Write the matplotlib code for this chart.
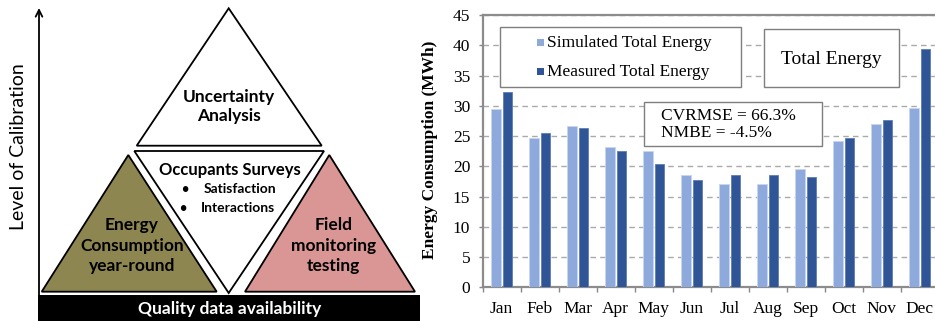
import matplotlib
matplotlib.use("Agg")
import matplotlib.pyplot as plt
import numpy as np
from matplotlib.patches import Polygon, Rectangle
from matplotlib.transforms import Affine2D

# ---------------- data ----------------
months = ["Jan", "Feb", "Mar", "Apr", "May", "Jun", "Jul", "Aug", "Sep", "Oct", "Nov", "Dec"]
simulated = [29.5, 24.6, 26.7, 23.2, 22.6, 18.5, 17.0, 17.0, 19.6, 24.2, 27.0, 29.7]
measured = [32.3, 25.5, 26.3, 22.6, 20.4, 17.7, 18.5, 18.5, 18.3, 24.6, 27.6, 39.3]
yticks = [0, 5, 10, 15, 20, 25, 30, 35, 40, 45]
series_labels = ["Simulated Total Energy", "Measured Total Energy"]
stats_text = "CVRMSE = 66.3%\nNMBE = -4.5%"
chart_title = "Total Energy"

W, H = 935, 321
fig = plt.figure(figsize=(W / 100, H / 100), dpi=100)

SANS = ["Lato", "DejaVu Sans"]
SERIF = ["Liberation Serif", "DejaVu Serif"]

# ---------------- left diagram (pixel coordinates) ----------------
ax0 = fig.add_axes([0, 0, 1, 1])
ax0.set_xlim(0, W)
ax0.set_ylim(H, 0)
ax0.axis("off")

olive = "#8E8650"
pink = "#D99694"

ax0.add_patch(Polygon([(228.7, 8.3), (136.7, 145.7), (321.7, 145.7)], closed=True,
                      facecolor="white", edgecolor="black", lw=1.3))
ax0.add_patch(Polygon([(134.3, 151), (324, 151), (228.7, 293)], closed=True,
                      facecolor="white", edgecolor="black", lw=1.3))
ax0.add_patch(Polygon([(128.3, 155), (41.7, 291.7), (216.7, 291.7)], closed=True,
                      facecolor=olive, edgecolor="black", lw=1.3))
ax0.add_patch(Polygon([(329.3, 155), (245, 291.7), (415, 291.7)], closed=True,
                      facecolor=pink, edgecolor="black", lw=1.3))

ax0.add_patch(Rectangle((38, 295), 382, 30, facecolor="black", edgecolor="none"))
ax0.text(230, 309, "Quality data availability", color="white", fontsize=12.5,
         fontweight="bold", family=SANS, ha="center", va="center")

ax0.annotate("", xy=(39, 8), xytext=(39, 295),
             arrowprops=dict(arrowstyle="->", lw=1.3, color="black", mutation_scale=12,
                             shrinkA=0, shrinkB=0))
ax0.text(19, 147, "Level of Calibration", rotation=90, fontsize=14, family=SANS,
         ha="center", va="center")

ax0.text(229, 106.5, "Uncertainty\nAnalysis", fontsize=12.5, fontweight="bold", family=SANS,
         ha="center", va="center", linespacing=1.3)
ax0.text(230, 170, "Occupants Surveys", fontsize=12, fontweight="bold", family=SANS,
         ha="center", va="center")
ax0.text(185, 189.3, "•", fontsize=9, fontweight="bold", family=SANS, ha="center", va="center")
ax0.text(203.3, 189.3, "Satisfaction", fontsize=10, fontweight="bold", family=SANS,
         ha="left", va="center")
ax0.text(182.7, 208.3, "•", fontsize=9, fontweight="bold", family=SANS, ha="center", va="center")
ax0.text(200.7, 208.3, "Interactions", fontsize=10, fontweight="bold", family=SANS,
         ha="left", va="center")
ax0.text(131.7, 245.5, "Energy\nConsumption\nyear-round", fontsize=12.5, fontweight="bold",
         family=SANS, ha="center", va="center", linespacing=1.32)
ax0.text(333.3, 245.5, "Field\nmonitoring\ntesting", fontsize=12.5, fontweight="bold",
         family=SANS, ha="center", va="center", linespacing=1.32)

# ---------------- right bar chart ----------------
x_left, x_right = 482.7, 938.7
y_top, y_bot = 15.0, 287.3
ax = fig.add_axes([x_left / W, (H - y_bot) / H, (x_right - x_left) / W, (y_bot - y_top) / H])
ax.set_zorder(2)

x = np.arange(len(months))
bw = 0.24
sim_color = "#8EA9DB"
meas_color = "#2F5597"
b1 = ax.bar(x - 0.15, simulated, bw, color=sim_color, edgecolor="#C9D6EE", lw=0.6, zorder=3)
b2 = ax.bar(x + 0.15, measured, bw, color=meas_color, edgecolor="#5B7DB8", lw=0.6, zorder=3)

ax.set_xlim(-0.5, len(months) - 0.5)
ax.set_ylim(0, 45)
ax.set_yticks(yticks)
ax.set_yticklabels([str(v) for v in yticks], family=SERIF, fontsize=12.5)
ax.set_xticks(np.arange(len(months) + 1) - 0.5)
ax.set_xticklabels([])
ax.set_xticks(x, minor=True)
ax.set_xticklabels(months, minor=True, family=SERIF, fontsize=12.5)
ax.tick_params(axis="x", which="major", length=3.5, color="#888888", width=1)
ax.tick_params(axis="x", which="minor", length=0, pad=10)
ax.tick_params(axis="y", length=3, color="#888888", width=1, pad=6)

ax.yaxis.grid(True, linestyle=(0, (4, 3)), color="#AAAAAA", lw=1, zorder=0)
ax.set_axisbelow(True)
for s in ["left", "bottom", "top"]:
    ax.spines[s].set_color("#8C8C8C")
    ax.spines[s].set_linewidth(1.6)
ax.spines["right"].set_visible(False)

ax.set_ylabel("Energy Consumption (MWh)", family=SERIF, fontsize=12.5, fontweight="bold")
ax.yaxis.set_label_coords(-0.098, 0.504)

# pixel transform (origin top-left) for annotation boxes
T = Affine2D().scale(1 / W, -1 / H).translate(0, 1) + fig.transFigure

# legend box
ax.add_patch(Rectangle((500, 26.7), 240.7, 60.6, transform=T, facecolor="white",
                       edgecolor="#7F7F7F", lw=1, zorder=5, clip_on=False))
leg_y = [42.7, 71.7]
for yy, col, lab in zip(leg_y, [sim_color, meas_color], series_labels):
    ax.add_patch(Rectangle((536.7, yy - 3.5), 7, 7, transform=T, facecolor=col,
                           edgecolor="none", zorder=6, clip_on=False))
    ax.text(546.7, yy, lab, transform=T, family=SERIF, fontsize=12.5, ha="left",
            va="center", zorder=6)

# title box
ax.add_patch(Rectangle((764, 29), 135.3, 58.3, transform=T, facecolor="white",
                       edgecolor="#7F7F7F", lw=1, zorder=5, clip_on=False))
ax.text(831.5, 59, chart_title, transform=T, family=SERIF, fontsize=14, ha="center",
        va="center", zorder=6)

# stats box
ax.add_patch(Rectangle((644.3, 101.7), 178, 44.3, transform=T, facecolor="white",
                       edgecolor="#7F7F7F", lw=1, zorder=5, clip_on=False))
ax.text(660.7, 124.5, stats_text, transform=T, family=SERIF, fontsize=12.5, ha="left",
        va="center", zorder=6, linespacing=1.05)

fig.savefig("out.png", dpi=100)
